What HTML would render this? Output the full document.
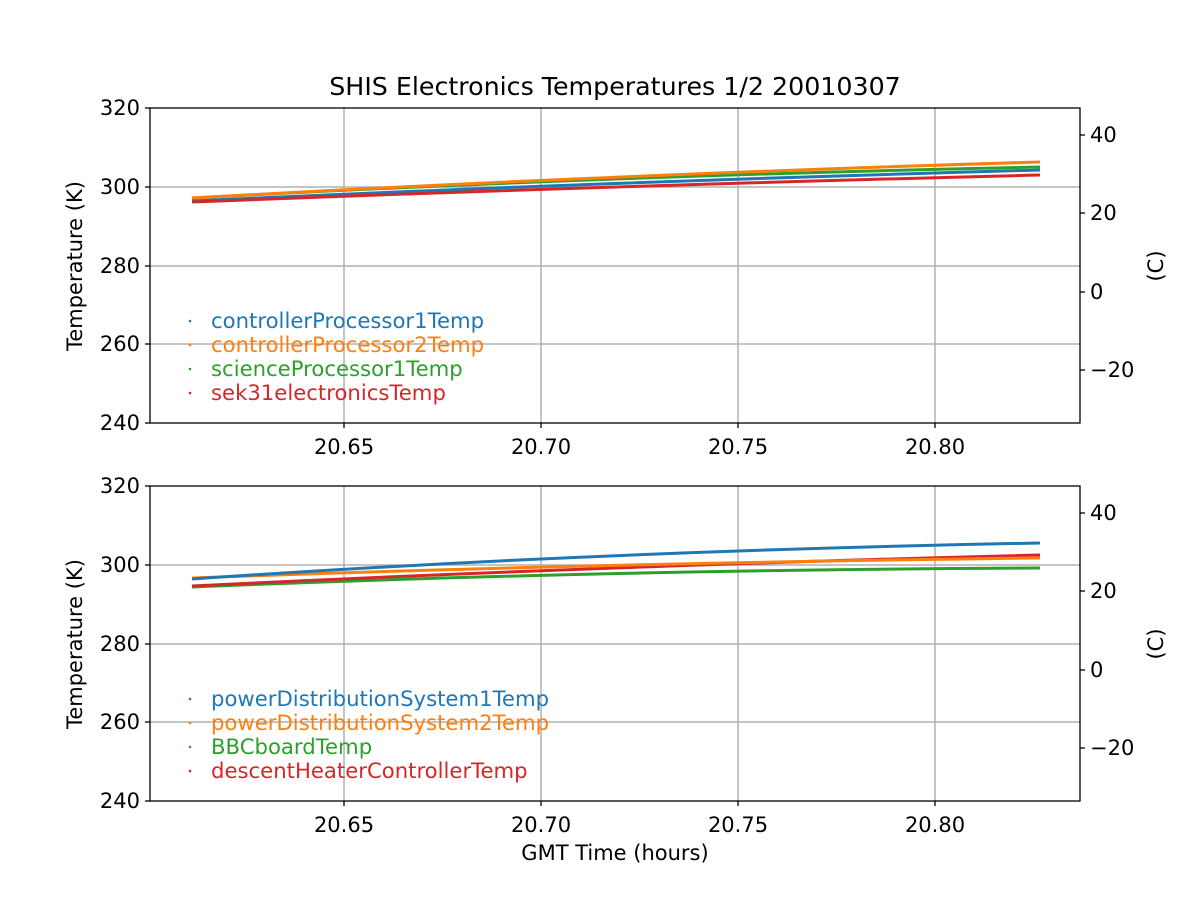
<!DOCTYPE html>
<html><head><meta charset="utf-8"><style>
body{margin:0;background:#fff;}
svg text{font-family:"DejaVu Sans","Liberation Sans",sans-serif;}
</style></head><body>
<svg width="1200" height="900" viewBox="0 0 1200 900" xmlns="http://www.w3.org/2000/svg">
<rect width="1200" height="900" fill="#fff"/>
<text x="615" y="95" font-size="25.3" text-anchor="middle">SHIS Electronics Temperatures 1/2 20010307</text>

<!-- TOP AXES -->
<g>
<g stroke="#b0b0b0" stroke-width="1.5">
<line x1="344" y1="108" x2="344" y2="423"/><line x1="541" y1="108" x2="541" y2="423"/>
<line x1="738" y1="108" x2="738" y2="423"/><line x1="935" y1="108" x2="935" y2="423"/>
<line x1="150" y1="187" x2="1080" y2="187"/><line x1="150" y1="266" x2="1080" y2="266"/>
<line x1="150" y1="344" x2="1080" y2="344"/>
</g>
<g fill="none" stroke-width="3">
<path d="M192,198 Q600,176 1040,167" stroke="#2ca02c"/>
<path d="M192,198 Q600,175 1040,162" stroke="#ff7f0e"/>
<path d="M192,201 Q600,182 1040,170" stroke="#1f77b4"/>
<path d="M192,202 Q600,186 1040,175" stroke="#d62728"/>
</g>
<rect x="150" y="108" width="930" height="315" fill="none" stroke="#000" stroke-width="1.3"/>
<g stroke="#000" stroke-width="1.3">
<line x1="150" y1="108" x2="145" y2="108"/><line x1="150" y1="187" x2="145" y2="187"/>
<line x1="150" y1="266" x2="145" y2="266"/><line x1="150" y1="344" x2="145" y2="344"/>
<line x1="150" y1="423" x2="145" y2="423"/>
<line x1="344" y1="423" x2="344" y2="428"/><line x1="541" y1="423" x2="541" y2="428"/>
<line x1="738" y1="423" x2="738" y2="428"/><line x1="935" y1="423" x2="935" y2="428"/>
<line x1="1080" y1="135" x2="1085" y2="135"/><line x1="1080" y1="213" x2="1085" y2="213"/>
<line x1="1080" y1="292" x2="1085" y2="292"/><line x1="1080" y1="370" x2="1085" y2="370"/>
</g>
<g font-size="21" text-anchor="end">
<text x="140" y="115">320</text><text x="140" y="194">300</text><text x="140" y="273">280</text>
<text x="140" y="351">260</text><text x="140" y="430">240</text>
</g>
<g font-size="21" text-anchor="middle">
<text x="344" y="454">20.65</text><text x="541" y="454">20.70</text>
<text x="738" y="454">20.75</text><text x="935" y="454">20.80</text>
</g>
<g font-size="21">
<text x="1090" y="142">40</text><text x="1090" y="220">20</text><text x="1090" y="299">0</text><text x="1090" y="377">−20</text>
</g>
<text transform="translate(82,266) rotate(-90)" font-size="21" text-anchor="middle">Temperature (K)</text>
<text transform="translate(1163,266) rotate(-90)" font-size="21" text-anchor="middle">(C)</text>
<g font-size="21.2">
<circle cx="190" cy="321" r="1.3" fill="#1f77b4"/><text x="211" y="328" fill="#1f77b4">controllerProcessor1Temp</text>
<circle cx="190" cy="345" r="1.3" fill="#ff7f0e"/><text x="211" y="352" fill="#ff7f0e">controllerProcessor2Temp</text>
<circle cx="190" cy="369" r="1.3" fill="#2ca02c"/><text x="211" y="376" fill="#2ca02c">scienceProcessor1Temp</text>
<circle cx="190" cy="393" r="1.3" fill="#d62728"/><text x="211" y="400" fill="#d62728">sek31electronicsTemp</text>
</g>
</g>

<!-- BOTTOM AXES -->
<g>
<g stroke="#b0b0b0" stroke-width="1.5">
<line x1="344" y1="486" x2="344" y2="801"/><line x1="541" y1="486" x2="541" y2="801"/>
<line x1="738" y1="486" x2="738" y2="801"/><line x1="935" y1="486" x2="935" y2="801"/>
<line x1="150" y1="565" x2="1080" y2="565"/><line x1="150" y1="644" x2="1080" y2="644"/>
<line x1="150" y1="722" x2="1080" y2="722"/>
</g>
<g fill="none" stroke-width="3">
<path d="M192,587 Q600,570 1040,568" stroke="#2ca02c"/>
<path d="M192,586 Q600,566 1040,555" stroke="#d62728"/>
<path d="M192,578 Q600,563 1040,558" stroke="#ff7f0e"/>
<path d="M192,579 Q600,551 1040,543" stroke="#1f77b4"/>
</g>
<rect x="150" y="486" width="930" height="315" fill="none" stroke="#000" stroke-width="1.3"/>
<g stroke="#000" stroke-width="1.3">
<line x1="150" y1="486" x2="145" y2="486"/><line x1="150" y1="565" x2="145" y2="565"/>
<line x1="150" y1="644" x2="145" y2="644"/><line x1="150" y1="722" x2="145" y2="722"/>
<line x1="150" y1="801" x2="145" y2="801"/>
<line x1="344" y1="801" x2="344" y2="806"/><line x1="541" y1="801" x2="541" y2="806"/>
<line x1="738" y1="801" x2="738" y2="806"/><line x1="935" y1="801" x2="935" y2="806"/>
<line x1="1080" y1="513" x2="1085" y2="513"/><line x1="1080" y1="591" x2="1085" y2="591"/>
<line x1="1080" y1="670" x2="1085" y2="670"/><line x1="1080" y1="748" x2="1085" y2="748"/>
</g>
<g font-size="21" text-anchor="end">
<text x="140" y="493">320</text><text x="140" y="572">300</text><text x="140" y="651">280</text>
<text x="140" y="729">260</text><text x="140" y="808">240</text>
</g>
<g font-size="21" text-anchor="middle">
<text x="344" y="832">20.65</text><text x="541" y="832">20.70</text>
<text x="738" y="832">20.75</text><text x="935" y="832">20.80</text>
</g>
<g font-size="21">
<text x="1090" y="520">40</text><text x="1090" y="598">20</text><text x="1090" y="677">0</text><text x="1090" y="755">−20</text>
</g>
<text transform="translate(82,644) rotate(-90)" font-size="21" text-anchor="middle">Temperature (K)</text>
<text transform="translate(1163,644) rotate(-90)" font-size="21" text-anchor="middle">(C)</text>
<text x="615" y="860" font-size="21" text-anchor="middle">GMT Time (hours)</text>
<g font-size="21.2">
<circle cx="190" cy="699" r="1.3" fill="#1f77b4"/><text x="211" y="706" fill="#1f77b4">powerDistributionSystem1Temp</text>
<circle cx="190" cy="723" r="1.3" fill="#ff7f0e"/><text x="211" y="730" fill="#ff7f0e">powerDistributionSystem2Temp</text>
<circle cx="190" cy="747" r="1.3" fill="#2ca02c"/><text x="211" y="754" fill="#2ca02c">BBCboardTemp</text>
<circle cx="190" cy="771" r="1.3" fill="#d62728"/><text x="211" y="778" fill="#d62728">descentHeaterControllerTemp</text>
</g>
</g>
</svg>
</body></html>
